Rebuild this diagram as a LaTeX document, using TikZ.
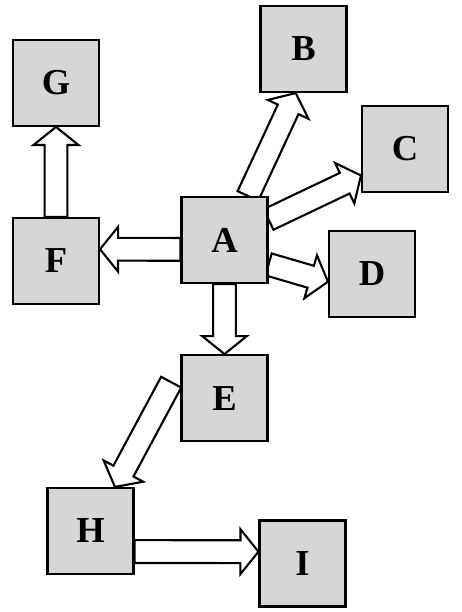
\documentclass[tikz,border=0pt]{standalone}
\usepackage{fontspec}
\setmainfont{Liberation Serif}
\usepackage{tikz}
\usetikzlibrary{positioning,calc,backgrounds}
\definecolor{boxgray}{HTML}{D6D6D6}
\tikzset{
  box/.style={rectangle, draw=black, line width=1.5pt, fill=boxgray, inner sep=0pt,
              minimum size=2.15cm, font=\fontsize{26}{30}\selectfont\bfseries},
  hollow/.style={draw=black, line width=1.5pt, fill=white, line join=miter},
}
% hollow block arrow from #1 to #2
\newcommand{\blockarr}[2]{%
  \draw[hollow] ($(#1)!0.285cm!90:(#2)$)
    -- ($(#2)!0.45cm!(#1)!0.285cm!90:(#2)$)
    -- ($(#2)!0.45cm!(#1)!0.56cm!90:(#2)$)
    -- (#2)
    -- ($(#2)!0.45cm!(#1)!0.56cm!-90:(#2)$)
    -- ($(#2)!0.45cm!(#1)!0.285cm!-90:(#2)$)
    -- ($(#1)!0.285cm!-90:(#2)$) -- cycle;}

\begin{document}
\begin{tikzpicture}
  \useasboundingbox (0,0) rectangle (11.55,-15.3);
  \node[box] (a) at (5.6125,-6.0) {A};
  \node[box] (b) at (7.5875,-1.225) {B};
  \node[box] (c) at (10.125,-3.725) {C};
  \node[box] (d) at (9.3,-6.85) {D};
  \node[box, below=1.75cm of a] (e) {E};
  \node[box] (f) at (1.4,-6.525) {F};
  \node[box, above=2.25cm of f] (g) {G};
  \node[box] (h) at (2.2625,-13.275) {H};
  \node[box] (i) at (7.5625,-14.0875) {I};
  \coordinate (eh) at ($(e.143)!0.49cm!(h.61)$);
  \begin{pgfonlayer}{background}
    \blockarr{a.62}{b.260} \blockarr{a.25}{c.211} \blockarr{a.331}{d.190}
    \blockarr{a.south}{e.north} \blockarr{a.192}{f.15} \blockarr{f.north}{g.south}
    \blockarr{eh}{h.61} \blockarr{h.335}{i.165.5}
  \end{pgfonlayer}
\end{tikzpicture}
\end{document}
